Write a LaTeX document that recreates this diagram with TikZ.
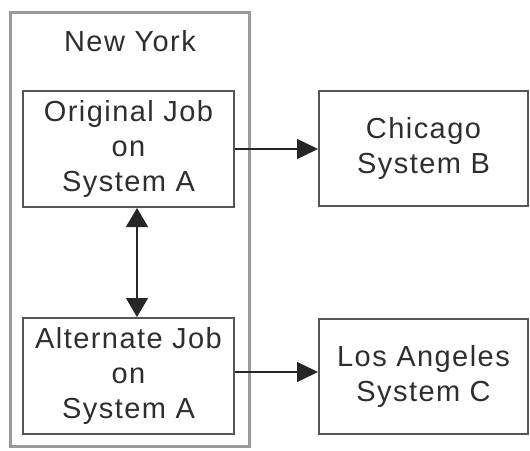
\documentclass[tikz,border=0pt]{standalone}
\usepackage{fontspec}
\setmainfont{Liberation Sans}[LetterSpace=5]
\usetikzlibrary{arrows.meta}
\definecolor{txt}{HTML}{2E2E2E}
\definecolor{boxline}{HTML}{555555}
\definecolor{outerline}{HTML}{9A9A9A}
\begin{document}
\begin{tikzpicture}[x=1pt,y=-1pt,
  every node/.style={font=\fontsize{29}{35}\selectfont, text=txt, align=center, inner sep=0pt},
  jobbox/.style={draw=boxline, line width=2pt, minimum width=211pt, minimum height=116pt},
  sitebox/.style={draw=boxline, line width=2pt, minimum width=209pt, minimum height=115pt},
  outerbox/.style={draw=outerline, line width=3pt},
  conn/.style={draw=black!85, line width=1.4pt, -{Triangle[length=21pt,width=20pt]}},
  dconn/.style={draw=black!85, line width=1.4pt, {Triangle[length=19pt,width=22pt]}-{Triangle[length=19pt,width=22pt]}}]
\useasboundingbox (0,0) rectangle (530,450);
\node[outerbox, minimum width=239pt, minimum height=434pt] (ny) at (129.5,229) {};
\node (nylabel) at (130,41) {New York};
\node[jobbox] (orig) at (128.5,149) {Original Job\\on\\System A};
\node[jobbox] (alt) at (128.5,376) {Alternate Job\\on\\System A};
\node[sitebox] (chi) at (423.5,148.5) {Chicago\\System B};
\node[sitebox] (la) at (423.5,376.5) {Los Angeles\\System C};
\coordinate (ab) at ([xshift=8.5pt]orig.south);
\coordinate (ae) at ([xshift=8.5pt]alt.north);
\draw[dconn] (ab) -- (ae);
\draw[conn] (orig.east) -- (orig.east -| chi.west);
\draw[conn] ([yshift=4pt]alt.east) -- ([yshift=4pt]alt.east -| la.west);
\end{tikzpicture}
\end{document}
